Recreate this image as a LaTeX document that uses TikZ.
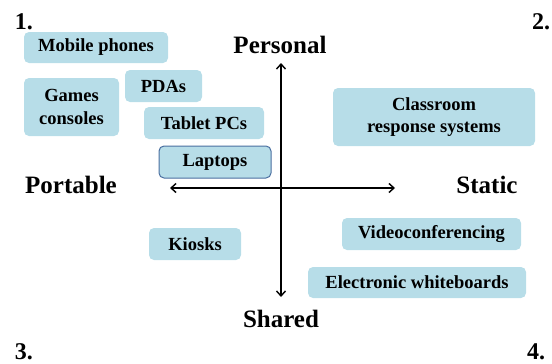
\documentclass[tikz,border=0pt]{standalone}
\usepackage{fontspec}
\setmainfont{Liberation Serif}
\usetikzlibrary{arrows.meta}
\definecolor{boxblue}{HTML}{B7DDE8}
\definecolor{edgeblue}{HTML}{4A6FA0}
\begin{document}
\begin{tikzpicture}[x=1pt,y=-1pt,
  dev/.style={rectangle, rounded corners=5pt, fill=boxblue, inner sep=0pt, align=center,
    font=\fontsize{18.5}{22.5}\selectfont\bfseries},
  axislabel/.style={anchor=base, inner sep=0pt, font=\fontsize{25}{28}\selectfont\bfseries},
  quad/.style={anchor=base, inner sep=0pt, font=\fontsize{24}{26}\selectfont\bfseries},
  axis/.style={line width=1.4pt, {Straight Barb[length=5pt,width=9pt]}-{Straight Barb[length=5pt,width=9pt]}}]
\useasboundingbox (0,0) rectangle (552,364);
% devices
\node[dev, minimum width=144pt, minimum height=31pt] (mobile) at (96,47.5) {Mobile phones};
\node[dev, minimum width=95pt, minimum height=58pt] (games) at (71.5,107) {Games\\consoles};
\node[dev, minimum width=77pt, minimum height=32pt] (pda) at (163.5,86) {PDAs};
\node[dev, minimum width=120pt, minimum height=32pt] (tablet) at (204,123) {Tablet PCs};
\node[dev, draw=edgeblue, line width=1pt, minimum width=112pt, minimum height=32pt] (laptop) at (215,162) {Laptops};
\node[dev, minimum width=202pt, minimum height=58pt] (crs) at (434,117) {Classroom\\response systems};
\node[dev, minimum width=92pt, minimum height=32pt] (kiosk) at (195,244) {Kiosks};
\node[dev, minimum width=179pt, minimum height=32pt] (video) at (431.5,234) {Videoconferencing};
\node[dev, minimum width=218pt, minimum height=31pt] (ewb) at (417,282.5) {Electronic whiteboards};
% axis labels
\node[axislabel] (personal) at (280,53) {Personal};
\node[axislabel] (portable) at (71,193) {Portable};
\node[axislabel] (static) at (487,193) {Static};
\node[axislabel] (shared) at (281,327) {Shared};
% quadrant numbers
\node[quad] (q1) at (24,29) {1.};
\node[quad] (q2) at (541,30) {2.};
\node[quad] (q3) at (24,359.5) {3.};
\node[quad] (q4) at (536,359.5) {4.};
% axes
\coordinate (top) at (281,63);
\coordinate (bottom) at (281,297);
\coordinate (left) at (170,188);
\coordinate (right) at (395,188);
\draw[axis] (top) -- (bottom);
\draw[axis] (left) -- (right);
\end{tikzpicture}
\end{document}
